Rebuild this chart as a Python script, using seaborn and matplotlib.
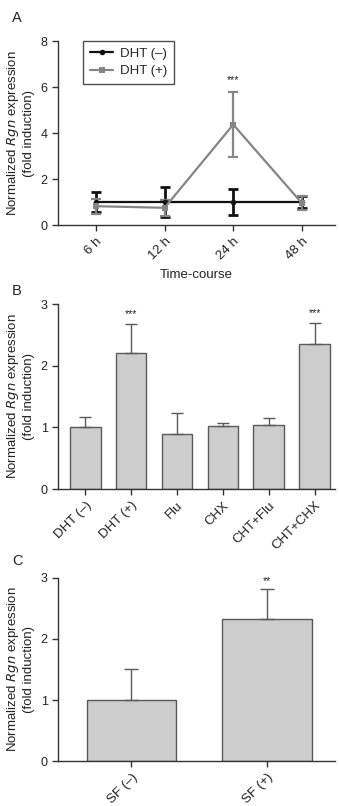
import numpy as np
import pandas as pd
import matplotlib
matplotlib.use("Agg")
import matplotlib.pyplot as plt
import seaborn as sns

sns.set_style("ticks")
plt.rcParams['font.family'] = ['Liberation Sans', 'DejaVu Sans']

# ---- data ----
time_labels = ["6 h", "12 h", "24 h", "48 h"]
dht_neg = [1.0, 1.0, 1.0, 1.0]
dht_neg_err = [0.45, 0.65, 0.57, 0.25]
dht_pos = [0.82, 0.75, 4.37, 0.95]
dht_pos_err = [0.33, 0.35, 1.42, 0.30]

b_cats = ["DHT (\u2013)", "DHT (+)", "Flu", "CHX", "CHT+Flu", "CHT+CHX"]
b_vals = [1.0, 2.2, 0.89, 1.02, 1.03, 2.35]
b_err = [0.17, 0.48, 0.35, 0.05, 0.12, 0.35]
b_stars = ["", "***", "", "", "", "***"]

c_cats = ["SF (\u2013)", "SF (+)"]
c_vals = [1.0, 2.32]
c_err = [0.51, 0.50]
c_stars = ["", "**"]

ylab = "Normalized $\\it{Rgn}$ expression\n(fold induction)"
bar_fill = "#cdcdcd"
bar_edge = "#5a5a5a"
spine_c = "#333333"

fig = plt.figure(figsize=(3.4, 8.06), dpi=100)

def style_axes(ax):
    sns.despine(ax=ax)
    for s in ["left", "bottom"]:
        ax.spines[s].set_color(spine_c)
        ax.spines[s].set_linewidth(1.0)
    ax.tick_params(axis="both", colors=spine_c, length=4, width=1.0,
                   labelcolor="#222222")
    ax.tick_params(axis="y", labelsize=9)
    ax.tick_params(axis="x", labelsize=9.5)
    ax.set_ylabel(ylab, fontsize=9.5, color="#222222", labelpad=4)

# ---- Panel A ----
axA = fig.add_axes([0.171, 0.7208, 0.814, 0.2282])
dfA = pd.DataFrame({
    "t": list(range(4)) * 2,
    "val": dht_neg + dht_pos,
    "grp": ["DHT (\u2013)"] * 4 + ["DHT (+)"] * 4,
})
sns.lineplot(data=dfA, x="t", y="val", hue="grp", style="grp",
             palette={"DHT (\u2013)": "#111111", "DHT (+)": "#858585"},
             markers={"DHT (\u2013)": "o", "DHT (+)": "s"}, dashes=False,
             markersize=4, linewidth=1.6, markeredgewidth=0, ax=axA, zorder=3)
x = np.arange(4)
axA.errorbar(x, dht_neg, yerr=dht_neg_err, fmt="none", ecolor="#111111",
             elinewidth=2.0, capsize=3.5, capthick=2.0, zorder=2)
axA.errorbar(x, dht_pos, yerr=dht_pos_err, fmt="none", ecolor="#858585",
             elinewidth=1.6, capsize=3.5, capthick=1.6, zorder=2.5)
axA.set_xlim(-0.55, 3.48)
axA.set_ylim(0, 8)
axA.set_yticks([0, 2, 4, 6, 8])
axA.set_xticks(x)
axA.set_xticklabels(time_labels, rotation=45, ha="right", rotation_mode="anchor")
style_axes(axA)
axA.set_xlabel("Time-course", fontsize=9.5, color="#222222", labelpad=5)
axA.text(2, dht_pos[2] + dht_pos_err[2] + 0.3, "***", ha="center", va="bottom", fontsize=7.5,
         color="#222222")
leg = axA.legend(loc="upper left", bbox_to_anchor=(0.09, 1.0), borderaxespad=0.0,
                 frameon=True, fancybox=False,
                 fontsize=9.5, handlelength=1.8, borderpad=0.5, labelspacing=0.4,
                 handletextpad=0.5)
leg.get_frame().set_edgecolor("#222222")
leg.get_frame().set_linewidth(1.0)
fig.text(0.035, 0.978, "A", fontsize=10.5, color="#222222", va="center")

# ---- Panel B ----
axB = fig.add_axes([0.171, 0.3933, 0.814, 0.2295])
dfB = pd.DataFrame({"cat": b_cats, "val": b_vals})
sns.barplot(data=dfB, x="cat", y="val", color=bar_fill, edgecolor=bar_edge, linewidth=1.0,
            width=0.67, saturation=1, ax=axB, errorbar=None)
xb = np.arange(len(b_cats))
axB.errorbar(xb, b_vals, yerr=[np.zeros(len(b_err)), b_err], fmt="none", ecolor=bar_edge,
             elinewidth=1.0, capsize=4, capthick=1.0, zorder=3)
for i, s in enumerate(b_stars):
    if s:
        axB.text(i, b_vals[i] + b_err[i] + 0.08, s, ha="center", va="bottom", fontsize=7.5,
                 color="#222222")
axB.set_xlim(-0.59, 5.44)
axB.set_ylim(0, 3)
axB.set_yticks([0, 1, 2, 3])
axB.set_xticks(xb)
axB.set_xticklabels(b_cats, rotation=45, ha="right", rotation_mode="anchor")
style_axes(axB)
axB.set_xlabel("")
fig.text(0.035, 0.6395, "B", fontsize=10.5, color="#222222", va="center")

# ---- Panel C ----
axC = fig.add_axes([0.171, 0.0558, 0.814, 0.2271])
dfC = pd.DataFrame({"cat": c_cats, "val": c_vals})
sns.barplot(data=dfC, x="cat", y="val", color=bar_fill, edgecolor=bar_edge, linewidth=1.0,
            width=0.66, saturation=1, ax=axC, errorbar=None)
xc = np.arange(len(c_cats))
axC.errorbar(xc, c_vals, yerr=[np.zeros(len(c_err)), c_err], fmt="none", ecolor=bar_edge,
             elinewidth=1.0, capsize=5, capthick=1.0, zorder=3)
for i, s in enumerate(c_stars):
    if s:
        axC.text(i, c_vals[i] + c_err[i] + 0.04, s, ha="center", va="bottom", fontsize=7.5,
                 color="#222222")
axC.set_xlim(-0.54, 1.5)
axC.set_ylim(0, 3)
axC.set_yticks([0, 1, 2, 3])
axC.set_xticks(xc)
axC.set_xticklabels(c_cats, rotation=45, ha="right", rotation_mode="anchor")
style_axes(axC)
axC.set_xlabel("")
fig.text(0.035, 0.3035, "C", fontsize=10.5, color="#222222", va="center")

fig.savefig("out.png", dpi=100)
